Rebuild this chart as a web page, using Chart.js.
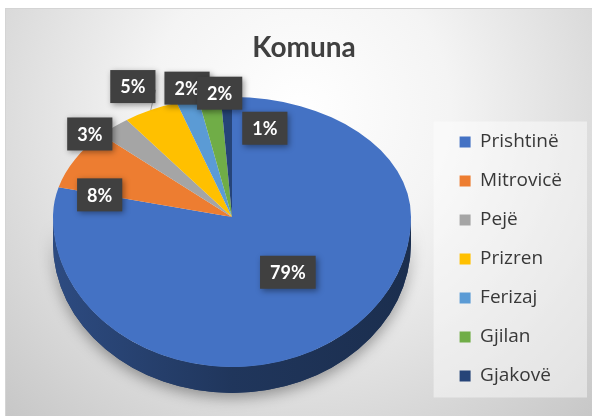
<!DOCTYPE html>
<html>
<head>
<meta charset="utf-8">
<script src="https://cdn.jsdelivr.net/npm/chart.js@4.4.1/dist/chart.umd.min.js"></script>
<style>
html,body{margin:0;padding:0;background:#fff;}
#wrap{width:592px;height:416px;position:relative;}
</style>
</head>
<body>
<div id="wrap"><canvas id="c" width="592" height="416"></canvas></div>
<script>
// ---- data ----
const categories = ['Prishtinë', 'Mitrovicë', 'Pejë', 'Prizren', 'Ferizaj', 'Gjilan', 'Gjakovë'];
const shares = [79, 8, 3, 5, 2, 2, 1];
const sliceColors = ['#4472C4', '#ED7D31', '#A5A5A5', '#FFC000', '#5B9BD5', '#70AD47', '#264478'];
const chartTitle = 'Komuna';

// ---- presentation ----
const PIE = {cx: 232, cy: 217, rx: 179, ryTop: 120, ryBot: 150, depth: 26};
const labelPlace = [
  {f: 0.5, dx: 1, dy: -4},
  {f: 0.85, dx: 1, dy: 27},
  {f: 1.1, dx: -12, dy: 16},
  {f: 1.22, dx: 0, dy: 0, leader: true},
  {f: 1.1, dx: 4, dy: -1},
  {f: 1.04, dx: 11, dy: 0},
  {f: 0.74, dx: 37, dy: 0}
];

function pt(a, f) {
  const s = Math.sin(a);
  return {x: PIE.cx + PIE.rx * f * Math.cos(a), y: PIE.cy + (s < 0 ? PIE.ryTop : PIE.ryBot) * f * s};
}
function shade(hex, k) {
  const n = parseInt(hex.slice(1), 16);
  const r = Math.round(((n >> 16) & 255) * k), g = Math.round(((n >> 8) & 255) * k), b = Math.round((n & 255) * k);
  return `rgb(${r},${g},${b})`;
}

const pie3d = {
  id: 'pie3d',
  beforeDraw(chart) {
    const ctx = chart.ctx, W = chart.width, H = chart.height;
    ctx.save();
    ctx.fillStyle = '#ffffff';
    ctx.fillRect(0, 0, W, H);
    const g = ctx.createRadialGradient(300, 110, 0, 300, 110, 430);
    g.addColorStop(0, '#ffffff');
    g.addColorStop(0.35, '#f4f4f4');
    g.addColorStop(1, '#c6c6c6');
    ctx.fillStyle = g;
    ctx.fillRect(5, 8, W - 5, H - 8);
    ctx.strokeStyle = '#d4d4d4';
    ctx.lineWidth = 1;
    ctx.strokeRect(5.5, 8.5, W - 5, H - 8);
    // legend panel
    const lg = chart.legend;
    if (lg) {
      const o = lg.options;
      const pad = o.labels.padding;
      const fs = o.labels.font.size;
      const itemH = Math.max(fs, o.labels.boxHeight);
      const titleH = o.title.display ? (o.title.font.size * 1.2 + o.title.padding.top + (o.title.padding.bottom || 0)) : 0;
      const itemsTop = lg.top + titleH + pad;
      const n = categories.length;
      const itemsBottom = itemsTop + n * (itemH + pad) - pad;
      const x0 = lg.left + pad - 26;
      const x1 = W - 5;
      ctx.fillStyle = 'rgba(255,255,255,0.45)';
      ctx.fillRect(x0, itemsTop - 11, x1 - x0, itemsBottom - itemsTop + 23);
    }
    ctx.restore();
  },
  beforeDatasetsDraw(chart) {
    const ctx = chart.ctx;
    const meta = chart.getDatasetMeta(0);
    ctx.save();
    // shadow under the pie
    ctx.beginPath();
    ctx.ellipse(PIE.cx, PIE.cy, PIE.rx, PIE.ryBot, 0, 0, Math.PI, false);
    ctx.ellipse(PIE.cx, PIE.cy + PIE.depth, PIE.rx, PIE.ryBot, 0, Math.PI, 0, true);
    ctx.closePath();
    ctx.shadowColor = 'rgba(0,0,0,0.35)';
    ctx.shadowBlur = 14;
    ctx.shadowOffsetY = 5;
    ctx.fillStyle = shade(sliceColors[0], 0.5);
    ctx.fill();
    ctx.restore();
    meta.data.forEach((el, i) => {
      const a0 = Math.max(el.startAngle, 0), a1 = Math.min(el.endAngle, Math.PI);
      if (a1 <= a0) return;
      ctx.save();
      ctx.beginPath();
      ctx.ellipse(PIE.cx, PIE.cy, PIE.rx, PIE.ryBot, 0, a0, a1, false);
      ctx.ellipse(PIE.cx, PIE.cy + PIE.depth, PIE.rx, PIE.ryBot, 0, a1, a0, true);
      ctx.closePath();
      const col = sliceColors[i];
      const g = ctx.createLinearGradient(PIE.cx - PIE.rx, 0, PIE.cx + PIE.rx, 0);
      g.addColorStop(0, shade(col, 0.66));
      g.addColorStop(0.5, shade(col, 0.47));
      g.addColorStop(1, shade(col, 0.4));
      ctx.fillStyle = g;
      ctx.fill();
      ctx.restore();
    });
  },
  beforeDatasetDraw(chart, args) {
    const ctx = chart.ctx;
    const meta = args.meta;
    const el0 = meta.data[0];
    const R = el0.outerRadius, ox = el0.x, oy = el0.y;
    const W = chart.width, H = chart.height;
    const halves = [
      {ry: PIE.ryTop, y0: 0, y1: PIE.cy + 0.5},
      {ry: PIE.ryBot, y0: PIE.cy - 0.5, y1: H}
    ];
    halves.forEach(h => {
      ctx.save();
      ctx.beginPath();
      ctx.rect(0, h.y0, W, h.y1 - h.y0);
      ctx.clip();
      ctx.translate(PIE.cx, PIE.cy);
      ctx.scale(PIE.rx / R, h.ry / R);
      ctx.translate(-ox, -oy);
      meta.controller.draw();
      ctx.restore();
    });
    return false;
  },
  afterDatasetsDraw(chart) {
    const ctx = chart.ctx;
    const meta = chart.getDatasetMeta(0);
    const total = shares.reduce((a, b) => a + b, 0);
    ctx.save();
    ctx.font = 'bold 18px Lato';
    ctx.textAlign = 'center';
    ctx.textBaseline = 'middle';
    meta.data.forEach((el, i) => {
      const mid = (el.startAngle + el.endAngle) / 2;
      const lp = labelPlace[i];
      const p = pt(mid, lp.f);
      const x = p.x + lp.dx, y = p.y + lp.dy;
      const txt = Math.round(shares[i] / total * 100) + '%';
      const tw = ctx.measureText(txt).width;
      const bw = tw + 20, bh = 33;
      const bx = x - bw / 2, by = y - bh / 2;
      if (lp.leader) {
        const e = pt(mid, 1);
        ctx.save();
        ctx.strokeStyle = '#a6a6a6';
        ctx.lineWidth = 1;
        ctx.beginPath();
        ctx.moveTo(bx + bw, by + bh * 0.6);
        ctx.lineTo(e.x, e.y);
        ctx.stroke();
        ctx.restore();
      }
      ctx.save();
      ctx.shadowColor = 'rgba(0,0,0,0.4)';
      ctx.shadowBlur = 6;
      ctx.shadowOffsetX = 2;
      ctx.shadowOffsetY = 2;
      ctx.fillStyle = '#404040';
      ctx.fillRect(bx, by, bw, bh);
      ctx.restore();
      ctx.fillStyle = '#ffffff';
      ctx.fillText(txt, x, y + 1);
    });
    ctx.restore();
  }
};

new Chart(document.getElementById('c'), {
  type: 'pie',
  data: {
    labels: categories,
    datasets: [{
      data: shares,
      backgroundColor: sliceColors,
      borderWidth: 0
    }]
  },
  options: {
    responsive: false,
    animation: false,
    devicePixelRatio: 1,
    layout: {padding: {left: 36, right: 20, top: 8, bottom: 0}},
    plugins: {
      title: {
        display: true,
        text: chartTitle,
        color: '#404040',
        font: {family: 'Lato', size: 28, weight: 'bold'},
        padding: {top: 23, bottom: 10}
      },
      legend: {
        position: 'right',
        align: 'start',
        fullSize: false,
        title: {display: true, text: ' ', font: {size: 10}, padding: {top: 25.9, bottom: 0}},
        labels: {
          boxWidth: 11,
          boxHeight: 11,
          padding: 20,
          color: '#383838',
          font: {family: 'Open Sans', size: 19}
        }
      },
      tooltip: {enabled: false}
    }
  },
  plugins: [pie3d]
});
</script>
</body>
</html>
